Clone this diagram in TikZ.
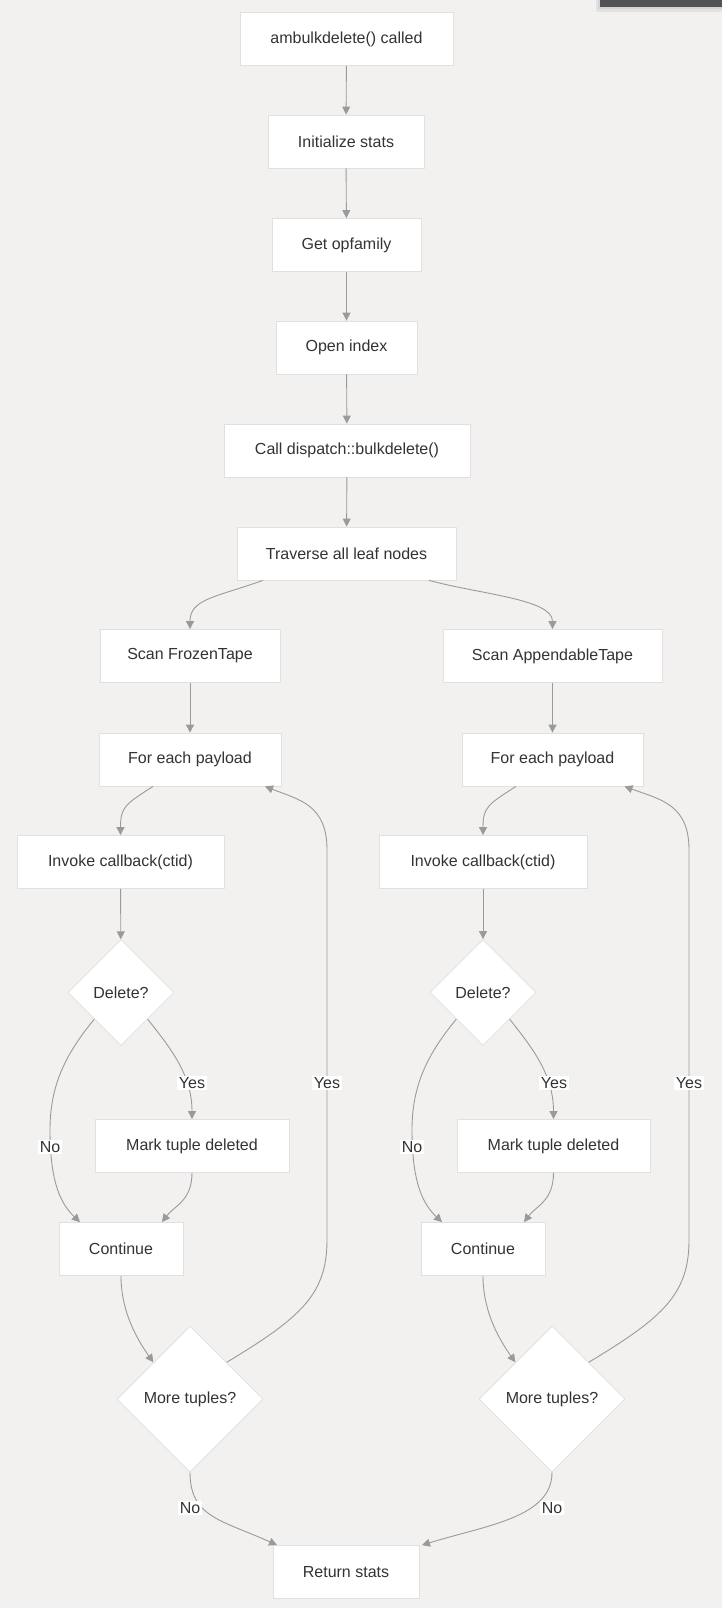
\documentclass[tikz,border=0pt]{standalone}
\usepackage{fontspec}
\setmainfont{Liberation Sans}
\usetikzlibrary{arrows.meta,shapes.geometric}
\definecolor{bg}{HTML}{F2F1F0}
\definecolor{edgec}{HTML}{9A9A9A}
\definecolor{bord}{HTML}{E0E0E0}
\definecolor{txt}{HTML}{333333}
\definecolor{barc}{HTML}{515256}
\begin{document}
\begin{tikzpicture}[x=1pt,y=-1pt,
  box/.style={draw=bord, fill=white, minimum height=53pt, inner sep=0pt, line width=0.8pt,
    font=\fontsize{16}{18}\selectfont, text=txt},
  dia/.style={diamond, aspect=1, draw=bord, fill=white, inner sep=0pt, line width=0.8pt,
    font=\fontsize{16}{18}\selectfont, text=txt},
  arr/.style={draw=edgec, line width=0.9pt, -{Triangle[length=8pt,width=8pt]}},
  lab/.style={fill=white, inner sep=1.5pt, font=\fontsize{16}{18}\selectfont, text=txt}]
\fill[bg] (0,0) rectangle (722,1608);
\useasboundingbox (0,0) rectangle (722,1608);
\fill[black, opacity=0.06] (596,0) rectangle (722,12);
\fill[black, opacity=0.06] (598,0) rectangle (722,9);
\fill[barc] (600,0) rectangle (722,7);

% main chain
\node[box, minimum width=213pt] (start) at (346.5,39) {ambulkdelete() called};
\node[box, minimum width=156pt] (init) at (346,141.5) {Initialize stats};
\node[box, minimum width=149pt] (opf) at (346.5,245) {Get opfamily};
\node[box, minimum width=141pt] (open) at (346.5,347.5) {Open index};
\node[box, minimum width=246pt] (disp) at (347,450.5) {Call dispatch::bulkdelete()};
\node[box, minimum width=219pt] (trav) at (346.5,553.5) {Traverse all leaf nodes};

% left branch
\node[box, minimum width=180pt] (scanL) at (190,656) {Scan FrozenTape};
\node[box, minimum width=182pt] (forL) at (190,759.5) {For each payload};
\node[box, minimum width=207pt] (invL) at (120.5,862) {Invoke callback(ctid)};
\node[dia, minimum width=106pt, minimum height=106pt] (delL) at (121,992.5) {Delete?};
\node[box, minimum width=194pt] (markL) at (192,1146) {Mark tuple deleted};
\node[box, minimum width=124pt] (contL) at (121,1249) {Continue};
\node[dia, minimum width=146pt, minimum height=146pt] (moreL) at (190,1399) {More tuples?};

% right branch
\node[box, minimum width=219pt] (scanR) at (552.5,656) {Scan AppendableTape};
\node[box, minimum width=181pt] (forR) at (552.5,759.5) {For each payload};
\node[box, minimum width=208pt] (invR) at (483,862) {Invoke callback(ctid)};
\node[dia, minimum width=106pt, minimum height=106pt] (delR) at (483,992.5) {Delete?};
\node[box, minimum width=193pt] (markR) at (553.5,1146) {Mark tuple deleted};
\node[box, minimum width=124pt] (contR) at (483,1249) {Continue};
\node[dia, minimum width=146pt, minimum height=146pt] (moreR) at (552,1399) {More tuples?};

\node[box, minimum width=146pt] (ret) at (346,1572) {Return stats};

% edges main chain
\draw[arr] (start) -- (init);
\draw[arr] (init) -- (opf);
\draw[arr] (opf) -- (open);
\draw[arr] (open) -- (disp);
\draw[arr] (disp) -- (trav);
\draw[arr] ([xshift=-83.5pt]trav.south) .. controls +(-48,17) and +(0,-30) .. (scanL.north);
\draw[arr] ([xshift=82.5pt]trav.south) .. controls +(52,14) and +(0,-30) .. (scanR.north);

% left edges
\draw[arr] (scanL) -- (forL);
\draw[arr] ([xshift=-37pt]forL.south) .. controls +(-28,18) and +(0,-28) .. (invL.north);
\draw[arr] (invL) -- (delL);
\draw[arr] (delL.south east) .. controls +(22,28) and +(0,-45) .. (markL.north)
  node[lab] at (192,1083) {Yes};
\draw[arr] (delL.south west) .. controls (62,1058) and (50,1090) .. (50,1130)
  .. controls (50,1185) and (62,1205) .. ([xshift=-41pt]contL.north)
  node[lab] at (50,1147) {No};
\draw[arr] (markL.south) .. controls +(0,28) and +(12,-16) .. ([xshift=41pt]contL.north);
\draw[arr] (contL.south) .. controls +(0,38) and +(-14,-20) .. (moreL.north west);
\draw[arr] (moreL.north east) .. controls (300,1318) and (327,1295) .. (327,1240)
  -- (327,850) .. controls (327,805) and (300,800) .. ([xshift=75pt]forL.south)
  node[lab] at (327,1083) {Yes};
\draw[arr] (moreL.south) .. controls +(0,45) and +(-55,-25) .. ([xshift=-69pt]ret.north)
  node[lab] at (190,1508) {No};

% right edges
\draw[arr] (scanR) -- (forR);
\draw[arr] ([xshift=-36.5pt]forR.south) .. controls +(-28,18) and +(0,-28) .. (invR.north);
\draw[arr] (invR) -- (delR);
\draw[arr] (delR.south east) .. controls +(22,28) and +(0,-45) .. (markR.north)
  node[lab] at (554,1083) {Yes};
\draw[arr] (delR.south west) .. controls (424,1058) and (412,1090) .. (412,1130)
  .. controls (412,1185) and (424,1205) .. ([xshift=-41pt]contR.north)
  node[lab] at (412,1147) {No};
\draw[arr] (markR.south) .. controls +(0,28) and +(12,-16) .. ([xshift=41pt]contR.north);
\draw[arr] (contR.south) .. controls +(0,38) and +(-14,-20) .. (moreR.north west);
\draw[arr] (moreR.north east) .. controls (662,1318) and (689,1295) .. (689,1240)
  -- (689,850) .. controls (689,805) and (662,800) .. ([xshift=72pt]forR.south)
  node[lab] at (689,1083) {Yes};
\draw[arr] (moreR.south) .. controls +(0,45) and +(65,-20) .. ([xshift=76pt]ret.north)
  node[lab] at (552,1508) {No};
\end{tikzpicture}
\end{document}
